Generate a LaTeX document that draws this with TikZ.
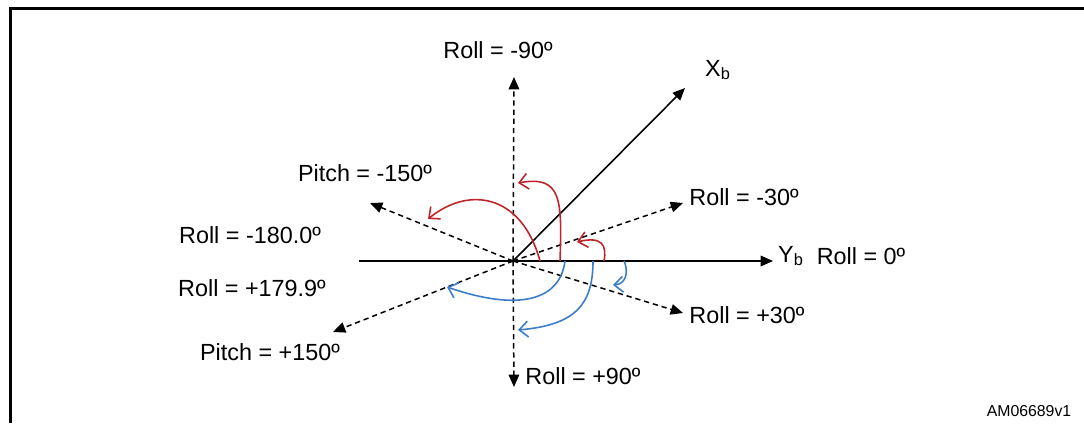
\documentclass[tikz,border=0pt]{standalone}
\usepackage{fontspec}
\setmainfont{Liberation Sans}
\usepackage{tikz}
\usetikzlibrary{arrows.meta}
\definecolor{turnred}{HTML}{C0242B}
\definecolor{turnblue}{HTML}{3A7CC8}

\begin{document}
\begin{tikzpicture}[x=0.02cm, y=-0.02cm, font=\fontsize{13.3}{16}\selectfont,
  axis/.style={line width=0.9pt, -{Triangle[length=7pt,width=6pt]}},
  dashaxis/.style={axis, line width=0.85pt, dash pattern=on 3pt off 2.2pt},
  turn/.style={line width=0.9pt, -{Straight Barb[length=5pt,width=9pt]}},
  redturn/.style={turn, turnred},
  blueturn/.style={turn, turnblue}]
  \useasboundingbox (0,0) rectangle (1084,423);
  % Frame (cut off at right and bottom)
  \draw[line width=1.5pt] (10.7,423) -- (10.7,8.7) -- (1084,8.7);
  % Body axes
  \coordinate (O) at (513,261);
  \coordinate (ybstart) at (359,261);
  \coordinate (yb tip) at (773,261);
  \coordinate (xb tip) at (685,88);
  \draw[axis] (ybstart) -- (yb tip);
  \draw[axis] (O) -- (xb tip);
  % Roll / pitch directions
  \coordinate (up tip) at (514,77);
  \coordinate (down tip) at (514,387);
  \coordinate (rn30 tip) at (683,203);
  \coordinate (rp30 tip) at (683,313);
  \coordinate (pn150 tip) at (370,203);
  \coordinate (pp150 tip) at (333,332);
  \foreach \t in {up,down,rn30,rp30,pn150,pp150}
    \draw[dashaxis] (O) -- (\t\space tip);
  % Labels
  \node (rollneg90) at (498,50) {Roll = -90º};
  \node (xb) at (718,70) {X\textsubscript{b}};
  \node (rollneg30) at (744,197) {Roll = -30º};
  \node (yb) at (791,256) {Y\textsubscript{b}};
  \node (rollzero) at (861,256) {Roll = 0º};
  \node (rollpos30) at (747,315) {Roll = +30º};
  \node (pitchneg150) at (365,173) {Pitch = -150º};
  \node (rollneg180) at (250,235) {Roll = -180.0º};
  \node (rollpos179) at (252,288) {Roll = +179.9º};
  \node (pitchpos150) at (270,352) {Pitch = +150º};
  \node (rollpos90) at (583,376) {Roll = +90º};
  \node[font=\fontsize{9}{11}\selectfont] (figid) at (1029,411) {AM06689v1};
  % Rotation arrows (red: up, blue: down)
  \draw[redturn] (540,261) .. controls (522,195) and (470,185) .. (428,219);
  \draw[redturn] (560,261) .. controls (562,200) and (562,175) .. (518,183);
  \draw[redturn] (604,261) .. controls (607,245) and (602,236) .. (577,242);
  \draw[blueturn] (565,261) .. controls (560,300) and (520,312) .. (447,287);
  \draw[blueturn] (593,261) .. controls (593,305) and (575,325) .. (518,330);
  \draw[blueturn] (624,261) .. controls (629,272) and (626,284) .. (613,285);
\end{tikzpicture}
\end{document}
